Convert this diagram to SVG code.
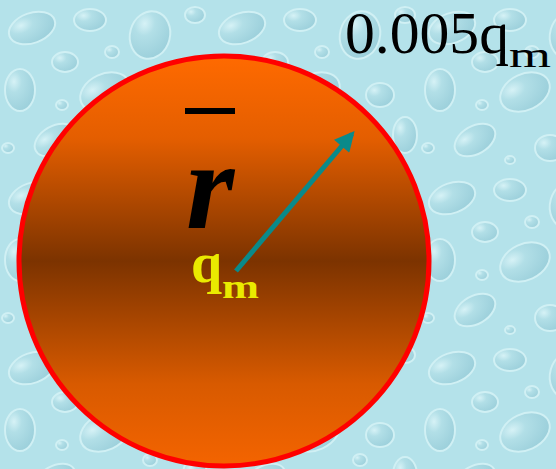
<svg xmlns="http://www.w3.org/2000/svg" width="556" height="469" viewBox="0 0 556 469">
<defs>
<style>
.t{font-family:"Liberation Serif","Times New Roman",serif;}
.drop{fill:url(#dropg);stroke:#d0f0f4;stroke-width:2;}
</style>
<radialGradient id="dropg" cx="0.3" cy="0.3" r="0.85">
<stop offset="0" stop-color="#d6f2f6"/>
<stop offset="0.3" stop-color="#b2dfe7"/>
<stop offset="1" stop-color="#98cdd9"/>
</radialGradient>
<pattern id="water" x="0" y="0" width="210" height="170" patternUnits="userSpaceOnUse">
<rect width="210" height="170" fill="#b4e2ea"/>
<ellipse class="drop" cx="32" cy="28" rx="24" ry="15" transform="rotate(-20 32 28)"/>
<ellipse class="drop" cx="90" cy="20" rx="16" ry="11"/>
<ellipse class="drop" cx="150" cy="35" rx="20" ry="24" transform="rotate(15 150 35)"/>
<ellipse class="drop" cx="195" cy="15" rx="10" ry="8"/>
<ellipse class="drop" cx="65" cy="62" rx="13" ry="10"/>
<ellipse class="drop" cx="20" cy="90" rx="15" ry="21"/>
<ellipse class="drop" cx="105" cy="92" rx="26" ry="18" transform="rotate(-25 105 92)"/>
<ellipse class="drop" cx="170" cy="95" rx="14" ry="12"/>
<ellipse class="drop" cx="195" cy="135" rx="12" ry="18"/>
<ellipse class="drop" cx="55" cy="140" rx="22" ry="14" transform="rotate(-30 55 140)"/>
<ellipse class="drop" cx="130" cy="148" rx="15" ry="13"/>
<ellipse class="drop" cx="112" cy="52" rx="7" ry="6"/>
<ellipse class="drop" cx="62" cy="105" rx="6" ry="5"/>
<ellipse class="drop" cx="150" cy="120" rx="7" ry="6"/>
<ellipse class="drop" cx="90" cy="160" rx="5" ry="4"/>
<ellipse class="drop" cx="8" cy="148" rx="6" ry="5"/>
</pattern>
<linearGradient id="ball" x1="0" y1="0" x2="0" y2="1">
<stop offset="0" stop-color="#ff6a00"/>
<stop offset="0.2" stop-color="#e45e00"/>
<stop offset="0.5" stop-color="#7c3300"/>
<stop offset="0.8" stop-color="#d85a00"/>
<stop offset="1" stop-color="#f46400"/>
</linearGradient>
<marker id="ah" viewBox="0 0 10 10" refX="8" refY="5" markerWidth="5" markerHeight="4" orient="auto" markerUnits="strokeWidth">
<path d="M0,0 L10,5 L0,10 z" fill="#0a8a8a"/>
</marker>
</defs>
<rect width="556" height="469" fill="url(#water)"/>
<g id="sphere">
<circle cx="224" cy="261" r="205" fill="url(#ball)" stroke="#ff0000" stroke-width="5"/>
</g>
<g id="connectors">
<line x1="236" y1="271" x2="352" y2="134" stroke="#0a8a8a" stroke-width="5" marker-end="url(#ah)"/>
</g>
<g id="r-label">
<rect x="185" y="108" width="50" height="6" fill="#000"/>
<text class="t" x="186" y="228" font-size="124" font-style="italic" font-weight="bold" fill="#000">r</text>
</g>
<g id="qm-label">
<text class="t" x="191" y="282" font-size="56" font-weight="bold" fill="#eaea00">q</text>
<text class="t" x="222" y="298" font-size="34" font-weight="bold" fill="#eaea00" textLength="37" lengthAdjust="spacingAndGlyphs">m</text>
</g>
<g id="flux-label">
<text class="t" x="345" y="53" font-size="60" fill="#000" textLength="164" lengthAdjust="spacingAndGlyphs">0.005q</text>
<text class="t" x="509" y="67" font-size="36" fill="#000" textLength="42" lengthAdjust="spacingAndGlyphs">m</text>
</g>
</svg>
